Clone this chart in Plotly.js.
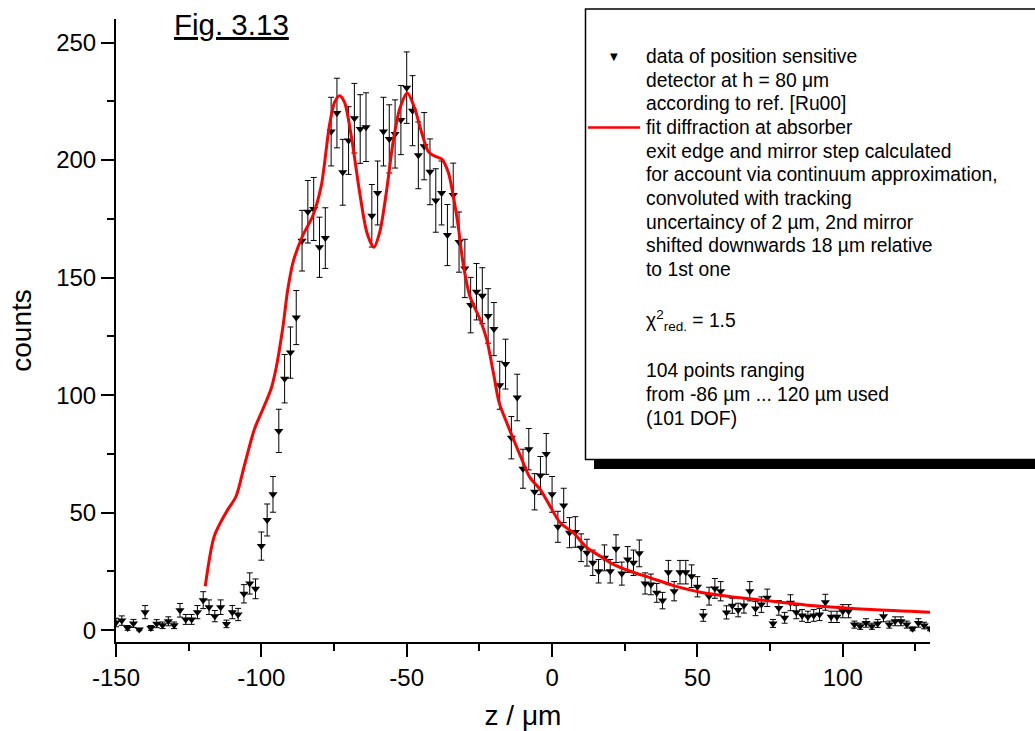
<!DOCTYPE html>
<html>
<head>
<meta charset="utf-8">
<script src="https://cdn.plot.ly/plotly-3.0.1.min.js"></script>
<style>html,body{margin:0;padding:0;background:#fff;}#chart{width:1035px;height:731px;}</style>
</head>
<body>
<div id="chart"></div>
<script>
// ---- data ----
const zData = [-150,-148,-146,-144,-142,-140,-138,-136,-134,-132,-130,-128,-126,-124,-122,-120,-118,-116,-114,-112,
  -110,-108,-106,-104,-102,-100,-98,-96,-94,-92,-90,-88,-86,-84,-82,-80,-78,-76,-74,-72,
  -70,-68,-66,-64,-62,-60,-58,-56,-54,-52,-50,-48,-46,-44,-42,-40,-38,-36,-34,-32,
  -30,-28,-26,-24,-22,-20,-18,-16,-14,-12,-10,-8,-6,-4,-2,0,2,4,6,8,
  10,12,14,16,18,20,22,24,26,28,30,32,34,36,38,40,42,44,46,48,
  50,52,54,56,58,60,62,64,66,68,70,72,74,76,78,80,82,84,86,88,
  90,92,94,96,98,100,102,104,106,108,110,112,114,116,118,120,122,124,126,128,130];
const countsData = [3.3,4.1,1,2.9,0.3,7.7,1,2.8,2.1,3.8,2.1,8.5,4.6,4.6,7.7,12.8,9.8,6,9.8,2.7,
  7.7,6.7,15.5,19.9,17.6,35.8,46.9,57.8,84.8,107,118.1,133,165.7,178,179.2,162.9,166.8,212.1,220,194.8,
  208.3,217.8,213.2,214,176.3,186,212.1,209,211.1,217,230.8,221,202,205.9,195,182.8,186,168.1,185.1,165.1,
  153.9,138.3,144,142.3,133.7,128.1,104.2,113.2,81.9,99,68.7,77,58.9,65.8,75,57.8,44,53.1,41.5,41.8,
  35.1,33,28.7,25.1,30.8,25.1,34.7,24.1,30.1,28.7,32.7,19.9,19.5,15.9,12.6,24.7,16.6,24.7,24.7,23,
  18.5,6.3,14.5,17.8,16.6,7.6,10.4,8.6,10.5,16.6,9.2,10.9,13.8,2.9,9.5,5.3,11.7,7.7,6.3,5.7,
  6.3,6.7,11.9,5.7,5.7,8.1,8.1,2.4,1.7,3.1,1.7,2.9,6,2.4,3.8,3.8,2.4,0.6,3.1,2,0.6];
const countsErr = [1.8,2.0,1.0,1.7,0.5,2.8,1.0,1.7,1.4,1.9,1.4,2.9,2.1,2.1,2.8,3.6,3.1,2.4,3.1,1.6,
  2.8,2.6,3.9,4.5,4.2,6.0,6.8,7.6,9.2,10.3,10.9,11.5,12.9,13.3,13.4,12.8,12.9,14.6,14.8,14.0,
  14.4,14.8,14.6,14.6,13.3,13.6,14.6,14.5,14.5,14.7,15.2,14.9,14.2,14.3,14.0,13.5,13.6,13.0,13.6,12.8,
  12.4,11.8,12.0,11.9,11.6,11.3,10.2,10.6,9.0,9.9,8.3,8.8,7.7,8.1,8.7,7.6,6.6,7.3,6.4,6.5,
  5.9,5.7,5.4,5.0,5.5,5.0,5.9,4.9,5.5,5.4,5.7,4.5,4.4,4.0,3.5,5.0,4.1,5.0,5.0,4.8,
  4.3,2.5,3.8,4.2,4.1,2.8,3.2,2.9,3.2,4.1,3.0,3.3,3.7,1.7,3.1,2.3,3.4,2.8,2.5,2.4,
  2.5,2.6,3.4,2.4,2.4,2.8,2.8,1.5,1.3,1.8,1.3,1.7,2.4,1.5,1.9,1.9,1.5,0.8,1.8,1.4,0.8];

const zFit = [-119.3,-116.2,-112.2,-108.7,-105.9,-102.4,-99.5,-96.7,-95,-92.7,-90.9,-89,-85.8,-82.3,-79.4,-76.6,-74.8,-73.1,-71.4,-69.1,
  -66.2,-63.7,-61.3,-59.3,-57,-54.7,-52.4,-49.8,-47.2,-44.9,-42.5,-40,-38,-35.7,-34,-32.3,-30.6,-28.3,-24.8,-22.5,
  -20.2,-18.2,-15.6,-12.8,-10.4,-7.6,-4.1,-0.7,2.8,7.3,12,16.6,21.1,26.9,33.8,41.8,51,64.8,75.2,92.4,109.7,130];
const countsFit = [18.7,40,50,57,69.8,85.5,94,102.5,111,128,145,157,167.8,176.3,189,214.6,224.6,227.4,224.6,210.4,
  186.3,169.2,162.9,169.2,186.3,207.6,221.8,228.5,221.8,211.8,203.5,201.5,200.5,194.8,184.8,172,156,142.2,132.3,123.8,
  109.6,96.8,88.3,79.8,72.7,64.9,59.9,52.8,45.7,41.5,35.1,31.5,28,25.1,22.3,19,16.2,13.8,12.4,10.2,8.8,7.7];

const xTickVals = [-150, -100, -50, 0, 50, 100];
const xTickText = ['-150', '-100', '-50', '0', '50', '100'];
const yTickVals = [0, 50, 100, 150, 200, 250];
const yTickText = ['0', '50', '100', '150', '200', '250'];

const xTitle = 'z / μm';
const yTitle = 'counts';
const figTitle = '<u>Fig. 3.13</u>';
const legendLines = [
  'data of position sensitive',
  'detector at h = 80 μm',
  'according to ref. [Ru00]',
  'fit diffraction at absorber',
  'exit edge and mirror step calculated',
  'for account via continuum approximation,',
  'convoluted with tracking',
  'uncertaincy of 2 µm, 2nd mirror',
  'shifted downwards 18 µm relative',
  'to 1st one'
];
const chiLine = 'χ<sup>2</sup><sub>red.</sub> = 1.5';
const rangeLines = ['104 points ranging', 'from -86 µm ... 120 µm used', '(101 DOF)'];

// ---- layout helpers (pixel -> paper) ----
const L = 116, R = 930, T = 19, B = 642;
const fx = p => (p - L) / (R - L);
const fy = p => (B - p) / (B - T);
const FONT = 'Liberation Sans, Arial, sans-serif';
const LEGFONT = {family: FONT, size: 19.3, color: '#000'};

const traces = [
  {
    x: zData, y: countsData, type: 'scatter', mode: 'markers',
    marker: {symbol: 'triangle-down', size: 8, color: '#000'},
    error_y: {type: 'data', array: countsErr, visible: true, color: '#000', thickness: 1, width: 3},
    showlegend: false, hoverinfo: 'x+y'
  },
  {
    x: zFit, y: countsFit, type: 'scatter', mode: 'lines',
    line: {color: '#ff0000', width: 3, shape: 'spline', smoothing: 0.8},
    showlegend: false
  }
];

const annotations = [];
const lineY0 = 56.7, lineStep = 23.65;
legendLines.forEach((t, i) => {
  annotations.push({text: t, xref: 'paper', yref: 'paper', x: fx(644), y: fy(lineY0 + i * lineStep),
    xanchor: 'left', yanchor: 'middle', showarrow: false, font: LEGFONT});
});
annotations.push({text: chiLine, xref: 'paper', yref: 'paper', x: fx(644), y: fy(320.7),
  xanchor: 'left', yanchor: 'middle', showarrow: false, font: LEGFONT});
rangeLines.forEach((t, i) => {
  annotations.push({text: t, xref: 'paper', yref: 'paper', x: fx(644), y: fy(370.7 + i * lineStep),
    xanchor: 'left', yanchor: 'middle', showarrow: false, font: LEGFONT});
});
annotations.push({text: '▼', xref: 'paper', yref: 'paper', x: fx(614), y: fy(57),
  xanchor: 'center', yanchor: 'middle', showarrow: false, font: {family: 'DejaVu Sans', size: 10, color: '#000'}});
annotations.push({text: figTitle, xref: 'paper', yref: 'paper', x: fx(231), y: fy(24),
  xanchor: 'center', yanchor: 'middle', showarrow: false, font: {family: FONT, size: 29.5, color: '#000'}});

const shapes = [
  {type: 'rect', xref: 'paper', yref: 'paper', x0: fx(594), x1: fx(1100), y0: fy(469), y1: fy(459),
    fillcolor: '#000', line: {width: 0}, layer: 'above'},
  {type: 'rect', xref: 'paper', yref: 'paper', x0: fx(585.5), x1: fx(1100), y0: fy(459.5), y1: fy(9),
    fillcolor: '#fff', line: {color: '#000', width: 1.5}, layer: 'above'},
  {type: 'line', xref: 'paper', yref: 'paper', x0: fx(588), x1: fx(640), y0: fy(127.5), y1: fy(127.5),
    line: {color: '#ff0000', width: 2.5}, layer: 'above'}
];

const axisCommon = {
  showline: true, linecolor: '#000', linewidth: 2, mirror: false,
  showgrid: false, zeroline: false,
  ticks: 'outside', ticklen: 13, tickwidth: 2, tickcolor: '#000',
  tickmode: 'array',
  tickfont: {family: FONT, size: 24, color: '#000'},
  minor: {ticks: 'outside', ticklen: 7, tickwidth: 2, tickcolor: '#000', showgrid: false, dtick: 25, tick0: 0}
};

const layout = {
  width: 1035, height: 731,
  margin: {l: L, r: 1035 - R, t: T, b: 731 - B, pad: 0},
  paper_bgcolor: '#fff', plot_bgcolor: '#fff',
  showlegend: false,
  xaxis: Object.assign({}, axisCommon, {
    range: [-150, 130], tickvals: xTickVals, ticktext: xTickText,
    title: {text: xTitle, font: {family: FONT, size: 28, color: '#000'}, standoff: 18}
  }),
  yaxis: Object.assign({}, axisCommon, {
    range: [-5, 260], tickvals: yTickVals, ticktext: yTickText,
    title: {text: yTitle, font: {family: FONT, size: 28, color: '#000'}, standoff: 16}
  }),
  annotations: annotations,
  shapes: shapes
};

Plotly.newPlot('chart', traces, layout, {displayModeBar: false, staticPlot: true});
</script>
</body>
</html>
